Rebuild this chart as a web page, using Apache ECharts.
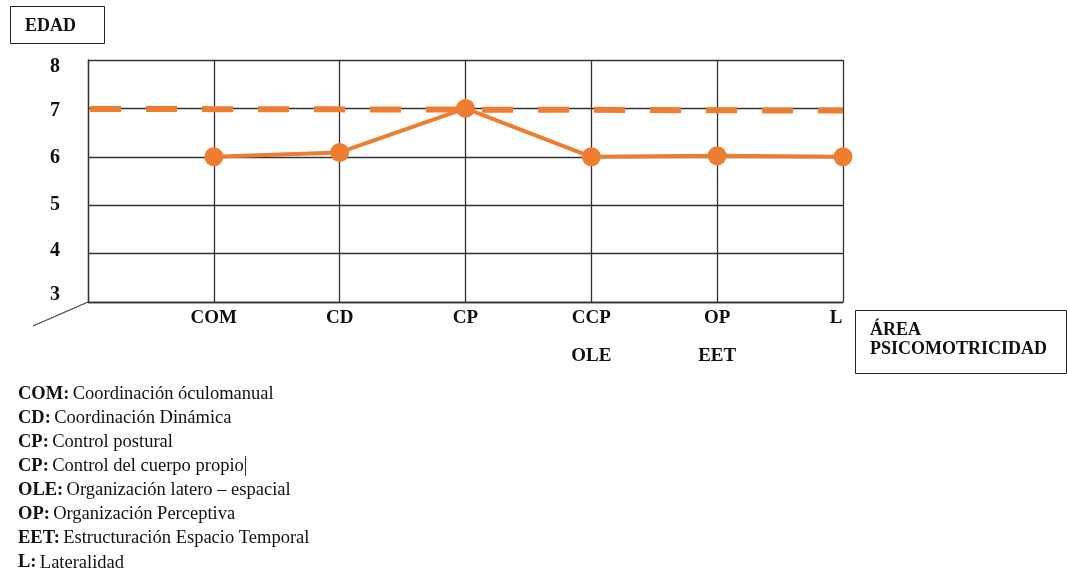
<!DOCTYPE html>
<html>
<head>
<meta charset="utf-8">
<script src="https://cdn.jsdelivr.net/npm/echarts@6/dist/echarts.min.js"></script>
<style>
html,body{margin:0;padding:0;background:#fff;}
#c{width:1068px;height:573px;}
</style>
</head>
<body>
<div id="c"></div>
<script>
// ---- data ----
var categories = ['', 'COM', 'CD', 'CP', 'CCP', 'OP', 'L'];
var secondRowLabels = ['', '', '', '', 'OLE', 'EET', ''];
var edadReferencia = [6.99, 6.985, 6.98, 6.975, 6.97, 6.96, 6.955];
var edadObtenida = ['-', 6.0, 6.09, 7.0, 6.0, 6.02, 6.0];
var yTicks = [3, 4, 5, 6, 7, 8];
var legendAbbr = ['COM:', 'CD:', 'CP:', 'CP:', 'OLE:', 'OP:', 'EET:', 'L:'];
var legendDesc = ['Coordinación óculomanual', 'Coordinación Dinámica', 'Control postural',
  'Control del cuerpo propio', 'Organización latero – espacial', 'Organización Perceptiva',
  'Estructuración Espacio Temporal', 'Lateralidad'];
var yAxisTitle = 'EDAD';
var xAxisTitle = ['ÁREA', 'PSICOMOTRICIDAD'];

// ---- chart ----
var FONT = '"Liberation Serif", "Times New Roman", serif';
var ORANGE = '#ED7D31';
var chart = echarts.init(document.getElementById('c'));

// vertical nudges of y tick labels (style only)
var yLabelShift = { 3: -7, 4: -3, 5: 0, 6: 1, 7: 2, 8: 7 };
var yRich = {};
yTicks.forEach(function (t) {
  var d = yLabelShift[t] || 0;
  yRich['t' + t] = {
    fontFamily: FONT, fontWeight: 'bold', fontSize: 20, color: '#111',
    padding: d >= 0 ? [2 * d, 0, 0, 0] : [0, 0, -2 * d, 0]
  };
});

var graphics = [
  { type: 'rect', shape: { x: 10.5, y: 6.5, width: 94, height: 37 },
    style: { fill: '#fff', stroke: '#222', lineWidth: 1 } },
  { type: 'text', x: 25, y: 26,
    style: { text: yAxisTitle, font: 'bold 18px ' + FONT, fill: '#111', verticalAlign: 'middle' } },
  { type: 'rect', shape: { x: 855.5, y: 310.5, width: 211, height: 63 },
    style: { fill: '#fff', stroke: '#222', lineWidth: 1 } },
  { type: 'text', x: 870, y: 330,
    style: { text: xAxisTitle[0], font: 'bold 18px ' + FONT, fill: '#111', verticalAlign: 'middle' } },
  { type: 'text', x: 870, y: 349,
    style: { text: xAxisTitle[1], font: 'bold 18px ' + FONT, fill: '#111', verticalAlign: 'middle' } },
  { type: 'line', shape: { x1: 33, y1: 326, x2: 88, y2: 302 },
    style: { stroke: '#444', lineWidth: 1.2 } }
];
for (var i = 0; i < legendAbbr.length; i++) {
  graphics.push({
    type: 'text', x: 18, y: 394 + i * 24.1,
    style: {
      text: '{b|' + legendAbbr[i] + '} {n|' + legendDesc[i] + '}',
      verticalAlign: 'middle',
      rich: {
        b: { font: 'bold 18.5px ' + FONT, fill: '#111' },
        n: { font: '18.5px ' + FONT, fill: '#111' }
      }
    }
  });
}
// text caret after "propio"
graphics.push({ type: 'line', shape: { x1: 245.5, y1: 456, x2: 245.5, y2: 476 },
  style: { stroke: '#333', lineWidth: 1 } });

chart.setOption({
  animation: false,
  backgroundColor: '#fff',
  grid: { left: 88, right: 225, top: 60, bottom: 271, containLabel: false },
  xAxis: {
    type: 'category',
    data: categories,
    boundaryGap: false,
    axisLine: { show: true, lineStyle: { color: '#333', width: 1.3 } },
    axisTick: { show: false },
    splitLine: { show: true, lineStyle: { color: '#333', width: 1.3 } },
    axisLabel: {
      interval: 0,
      margin: 7,
      fontFamily: FONT, fontWeight: 'bold', fontSize: 19, color: '#111',
      lineHeight: 19,
      rich: {
        last: { fontFamily: FONT, fontWeight: 'bold', fontSize: 19, color: '#111',
                lineHeight: 19, padding: [0, 14, 0, 0] }
      },
      formatter: function (v, idx) {
        var s = secondRowLabels[idx];
        if (idx === categories.length - 1) return '{last|' + v + '}';
        return s ? v + '\n\n' + s : v;
      }
    }
  },
  yAxis: {
    type: 'value',
    min: yTicks[0], max: yTicks[yTicks.length - 1], interval: 1,
    axisLine: { show: true, lineStyle: { color: '#333', width: 1.3 } },
    axisTick: { show: false },
    splitLine: { show: true, lineStyle: { color: '#333', width: 1.3 } },
    axisLabel: {
      margin: 28,
      fontFamily: FONT, fontWeight: 'bold', fontSize: 20, color: '#111',
      rich: yRich,
      formatter: function (v) { return '{t' + v + '|' + v + '}'; }
    }
  },
  series: [
    {
      type: 'line',
      data: edadReferencia,
      symbol: 'none',
      lineStyle: { color: ORANGE, width: 6, type: [31, 25], cap: 'butt', dashOffset: -2 },
      z: 3
    },
    {
      type: 'line',
      data: edadObtenida,
      symbol: 'circle',
      symbolSize: 19,
      itemStyle: { color: ORANGE },
      lineStyle: { color: ORANGE, width: 4 },
      z: 4
    }
  ],
  graphic: graphics
});
</script>
</body>
</html>
